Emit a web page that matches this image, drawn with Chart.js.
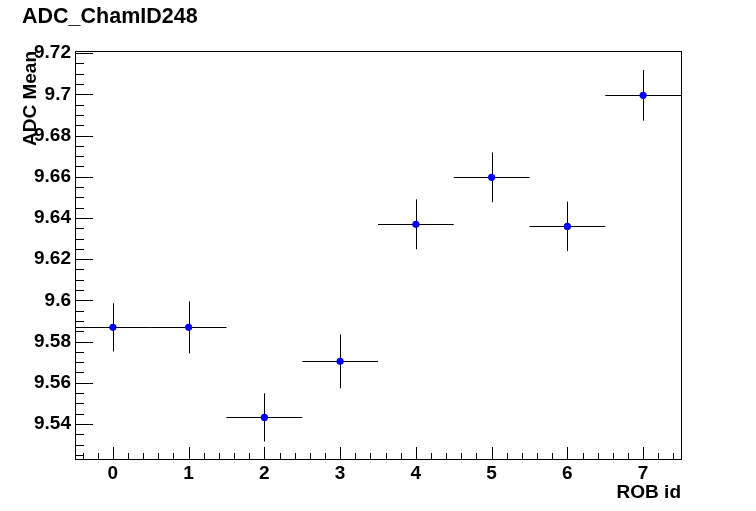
<!DOCTYPE html>
<html>
<head>
<meta charset="utf-8">
<script src="https://cdn.jsdelivr.net/npm/chart.js@4"></script>
<style>
    html, body { margin: 0; padding: 0; background: #fff; }
    #wrap { width: 756px; height: 511px; }
</style>
</head>
<body>
<div id="wrap"><canvas id="adcChart" width="756" height="511"></canvas></div>
<script>
// ROB ids and ADC mean per ROB
const robIds = [0, 1, 2, 3, 4, 5, 6, 7];
const robHalfWidth = [0.5, 0.5, 0.5, 0.5, 0.5, 0.5, 0.5, 0.5];
const adcMean = [9.5869, 9.5869, 9.5432, 9.5704, 9.6369, 9.6597, 9.6359, 9.6995];
const adcErr = [0.0117, 0.0126, 0.0117, 0.0131, 0.0121, 0.0121, 0.0120, 0.0123];

// Axis tick labels
const xTickValues = [0, 1, 2, 3, 4, 5, 6, 7];
const xTickLabels = ['0', '1', '2', '3', '4', '5', '6', '7'];
const yTickValues = [9.54, 9.56, 9.58, 9.6, 9.62, 9.64, 9.66, 9.68, 9.7, 9.72];
const yTickLabels = ['9.54', '9.56', '9.58', '9.6', '9.62', '9.64', '9.66', '9.68', '9.7', '9.72'];

const FONT = 'Liberation Sans, Arial, Helvetica, sans-serif';

// Frame box plus ROOT-style inward ticks (major + minor)
const frameTicks = {
    id: 'frameTicks',
    afterDraw(chart) {
        const ctx = chart.ctx;
        const area = chart.chartArea;
        const xs = chart.scales.x;
        const ys = chart.scales.y;
        ctx.save();
        ctx.strokeStyle = '#000';
        ctx.lineWidth = 1;
        ctx.strokeRect(Math.round(area.left) + 0.5, Math.round(area.top) + 0.5,
            Math.round(area.right - area.left), Math.round(area.bottom - area.top));

        ctx.beginPath();
        // x axis ticks, every 0.2, major on integers
        for (let i = -2; i <= 37; i++) {
            const px = Math.round(xs.getPixelForValue(i / 5)) + 0.5;
            const len = (i % 5 === 0) ? 12 : 6;
            ctx.moveTo(px, area.bottom);
            ctx.lineTo(px, area.bottom - len);
        }
        // y axis ticks, every 0.005, major every 0.02
        for (let i = 0; i <= 39; i++) {
            const py = Math.round(ys.getPixelForValue(9.525 + i * 0.005)) + 0.5;
            const len = (i % 4 === 3) ? 18 : 9;
            ctx.moveTo(area.left, py);
            ctx.lineTo(area.left + len, py);
        }
        ctx.stroke();
        ctx.restore();
    }
};

// Error bars drawn through the scales
const errorBars = {
    id: 'errorBars',
    beforeDatasetsDraw(chart) {
        const ctx = chart.ctx;
        const xs = chart.scales.x;
        const ys = chart.scales.y;
        ctx.save();
        ctx.strokeStyle = '#000';
        ctx.lineWidth = 1;
        ctx.beginPath();
        robIds.forEach((id, i) => {
            const px = Math.round(xs.getPixelForValue(id)) + 0.5;
            const py = Math.round(ys.getPixelForValue(adcMean[i])) + 0.5;
            ctx.moveTo(xs.getPixelForValue(id - robHalfWidth[i]), py);
            ctx.lineTo(xs.getPixelForValue(id + robHalfWidth[i]), py);
            ctx.moveTo(px, ys.getPixelForValue(adcMean[i] + adcErr[i]));
            ctx.lineTo(px, ys.getPixelForValue(adcMean[i] - adcErr[i]));
        });
        ctx.stroke();
        ctx.restore();
    }
};

document.addEventListener('DOMContentLoaded', function() {
    const ctx = document.getElementById('adcChart').getContext('2d');
    new Chart(ctx, {
        type: 'scatter',
        data: {
            datasets: [{
                label: 'ADC Mean',
                data: robIds.map((id, i) => ({ x: id, y: adcMean[i] })),
                backgroundColor: '#0000ff',
                borderWidth: 0,
                pointRadius: 3.6,
                pointHoverRadius: 3.6
            }]
        },
        options: {
            responsive: false,
            animation: false,
            events: [],
            layout: { padding: { left: 22, right: 75, top: 0, bottom: 0 } },
            plugins: {
                legend: { display: false },
                tooltip: { enabled: false },
                title: {
                    display: true,
                    text: 'ADC_ChamID248',
                    align: 'start',
                    color: '#000',
                    font: { family: FONT, size: 21.5, weight: 'bold' },
                    padding: { top: 4.6, bottom: 20.6 }
                }
            },
            scales: {
                x: {
                    type: 'linear',
                    min: -0.5,
                    max: 7.5,
                    grid: { display: false, drawTicks: false },
                    border: { display: false },
                    afterBuildTicks: scale => { scale.ticks = xTickValues.map(v => ({ value: v })); },
                    afterFit: scale => { scale.height = 52; },
                    ticks: {
                        color: '#000',
                        padding: 3,
                        maxRotation: 0,
                        font: { family: FONT, size: 19, weight: 'bold' },
                        callback: (v, i) => xTickLabels[i]
                    },
                    title: {
                        display: true,
                        text: 'ROB id',
                        align: 'end',
                        color: '#000',
                        font: { family: FONT, size: 19, weight: 'bold' },
                        padding: { top: 0, bottom: 7 }
                    }
                },
                y: {
                    type: 'linear',
                    min: 9.52301,
                    max: 9.72101,
                    grid: { display: false, drawTicks: false },
                    border: { display: false },
                    afterBuildTicks: scale => { scale.ticks = yTickValues.map(v => ({ value: v })); },
                    afterFit: scale => { scale.width = 53; },
                    ticks: {
                        color: '#000',
                        padding: 4,
                        font: { family: FONT, size: 19, weight: 'bold' },
                        callback: (v, i) => yTickLabels[i]
                    },
                    title: {
                        display: true,
                        text: 'ADC Mean',
                        align: 'end',
                        color: '#000',
                        font: { family: FONT, size: 19, weight: 'bold' },
                        padding: { top: -3, bottom: 0 }
                    }
                }
            }
        },
        plugins: [errorBars, frameTicks]
    });
});
</script>
</body>
</html>
